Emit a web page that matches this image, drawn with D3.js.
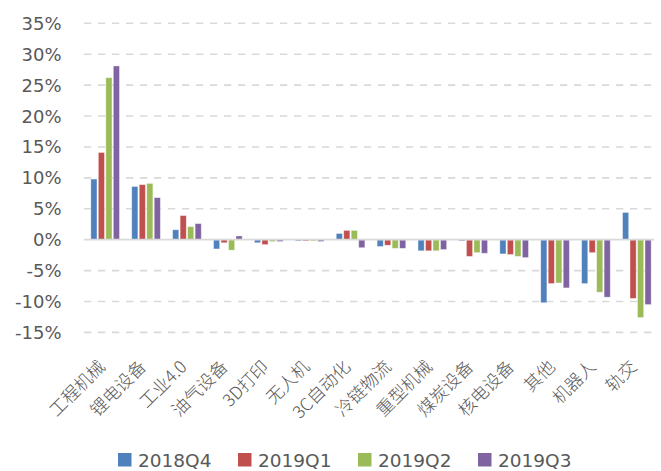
<!DOCTYPE html>
<html>
<head>
<meta charset="utf-8">
<script src="https://cdn.jsdelivr.net/npm/d3@7"></script>
<style>
  html, body { margin: 0; padding: 0; background: #fff; }
  svg { display: block; }
</style>
</head>
<body>
<svg id="chart" width="661" height="471"></svg>
<script>
const categories = ["工程机械","锂电设备","工业4.0","油气设备","3D打印","无人机","3C自动化","冷链物流","重型机械","煤炭设备","核电设备","其他","机器人","轨交"];
const seriesNames = ["2018Q4","2019Q1","2019Q2","2019Q3"];
const s2018Q4 = [9.8, 8.6, 1.6, -1.5, -0.5, -0.2, 1.0, -1.1, -1.8, -0.2, -2.3, -10.2, -7.1, 4.4];
const s2019Q1 = [14.1, 8.9, 3.9, -0.5, -0.8, -0.2, 1.5, -0.9, -1.8, -2.7, -2.4, -7.1, -2.1, -9.5];
const s2019Q2 = [26.2, 9.1, 2.1, -1.7, -0.3, -0.2, 1.5, -1.4, -1.8, -2.1, -2.7, -7.0, -8.5, -12.6];
const s2019Q3 = [28.1, 6.8, 2.6, 0.6, -0.3, -0.3, -1.3, -1.4, -1.6, -2.2, -2.9, -7.8, -9.3, -10.5];
const yTicks = [-15, -10, -5, 0, 5, 10, 15, 20, 25, 30, 35];
const colors = ["#4F81BD", "#C0504D", "#9BBB59", "#8064A2"];

const seriesValues = [s2018Q4, s2019Q1, s2019Q2, s2019Q3];
const svg = d3.select("#chart");
const textColor = "#595959";

const x0 = d3.scaleBand().domain(categories).range([84.7, 657.3]).paddingInner(0.3).paddingOuter(0.15);
const x1 = d3.scaleBand().domain(seriesNames).range([0, x0.bandwidth()]).paddingInner(0.18);
const y = d3.scaleLinear().domain([-15, 35]).range([332.4, 23.3]);

// gridlines
svg.append("g").selectAll("line")
  .data(yTicks.filter(d => d !== 0))
  .join("line")
  .attr("x1", 84).attr("x2", 654)
  .attr("y1", d => y(d)).attr("y2", d => y(d))
  .attr("stroke", "#d9d9d9").attr("stroke-width", 1.6)
  .attr("stroke-dasharray", "7.3,6.7");

// y labels
svg.append("g").selectAll("text")
  .data(yTicks)
  .join("text")
  .attr("x", 61.5).attr("y", d => y(d))
  .attr("dy", "0.36em")
  .attr("text-anchor", "end")
  .attr("font-family", "'DejaVu Sans', sans-serif")
  .attr("font-size", 18)
  .attr("fill", textColor)
  .text(d => d + "%");

// bars
const groups = svg.append("g").selectAll("g")
  .data(categories)
  .join("g")
  .attr("transform", d => `translate(${x0(d)},0)`);

groups.selectAll("rect")
  .data((c, i) => seriesNames.map((s, j) => ({ s, v: seriesValues[j][i], j })))
  .join("rect")
  .attr("x", d => x1(d.s))
  .attr("width", x1.bandwidth())
  .attr("y", d => Math.min(y(d.v), y(0)))
  .attr("height", d => Math.abs(y(d.v) - y(0)))
  .attr("fill", d => colors[d.j])
  .attr("stroke", "#ffffff").attr("stroke-opacity", 0.45).attr("stroke-width", 0.8);

// zero axis line
svg.append("line")
  .attr("x1", 84).attr("x2", 654)
  .attr("y1", y(0)).attr("y2", y(0))
  .attr("stroke", "#d9d9d9").attr("stroke-width", 1.8);

// x labels
svg.append("g").selectAll("text")
  .data(categories)
  .join("text")
  .attr("transform", d => `translate(${x0(d) + x0.bandwidth() / 2 + 1},${368}) rotate(-45)`)
  .attr("text-anchor", "end")
  .attr("font-family", "'Noto Sans CJK SC', sans-serif")
  .attr("font-size", 17.5)
  .attr("font-weight", 300)
  .attr("fill", textColor)
  .text(d => d);

// legend
const legend = svg.append("g").selectAll("g")
  .data(seriesNames)
  .join("g")
  .attr("transform", (d, i) => `translate(${118 + i * 120},453)`);
legend.append("rect")
  .attr("width", 13.5).attr("height", 13.5)
  .attr("fill", (d, i) => colors[i]);
legend.append("text")
  .attr("x", 20).attr("y", 13.7)
  .attr("font-family", "'DejaVu Sans', sans-serif")
  .attr("font-size", 18.5)
  .attr("fill", textColor)
  .text(d => d);
</script>
</body>
</html>
